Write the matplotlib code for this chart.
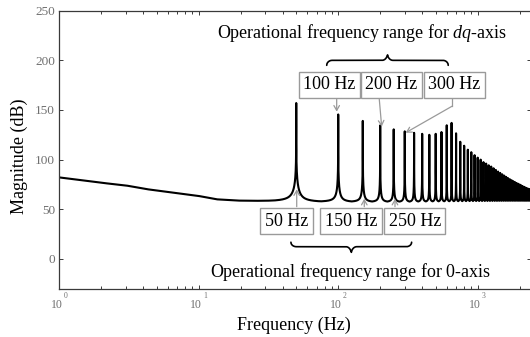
import numpy as np
import matplotlib
matplotlib.use("Agg")
import matplotlib.pyplot as plt
from matplotlib.ticker import LogLocator, NullFormatter

plt.rcParams["font.family"] = ["Liberation Serif", "DejaVu Serif"]
plt.rcParams["mathtext.fontset"] = "custom"
plt.rcParams["mathtext.rm"] = "Liberation Serif"
plt.rcParams["mathtext.it"] = "Liberation Serif:italic"

# Smooth background magnitude (Hz, dB)
base_freq = [1, 2, 3, 4.2, 5.9, 10, 13.4, 19, 25, 35, 300, 2400]
base_db = [81.8, 76.4, 73.7, 70.0, 67.3, 63.0, 59.6, 58.2, 57.8, 57.4, 57.0, 58.0]

# Resonant peaks at the harmonics (Hz, dB at the peak)
peak_freq = list(range(50, 2401, 50))
peak_db = [157.0, 145.5, 139.0, 134.5, 130.5, 128.5, 127.0, 126.0, 125.0, 126.0,
           127.8, 134.6, 137.0, 126.5, 118.0, 114.0, 110.0, 107.5, 104.5, 102.0,
           100.0, 97.5, 96.0, 94.3, 93.0, 91.3, 89.6, 88.0, 86.6, 85.2,
           83.9, 82.6, 81.4, 80.3, 79.3, 78.3, 77.4, 76.5, 75.7, 74.9,
           74.1, 73.3, 72.6, 71.9, 71.3, 70.7, 70.2, 69.7]
peak_bw = 5.0  # resonance width, Hz

dq_labels = ["100 Hz", "200 Hz", "300 Hz"]
zero_labels = ["50 Hz", "150 Hz", "250 Hz"]

# Frequency response: background plus the strongest resonance at each point
freq = np.unique(np.concatenate([np.logspace(0, np.log10(2400), 40000), peak_freq]))
lf = np.log10(freq)
background = np.interp(lf, np.log10(base_freq), base_db)
gain = np.zeros_like(freq)
for fk, pk in zip(peak_freq, peak_db):
    excess = pk - np.interp(np.log10(fk), np.log10(base_freq), base_db)
    r = 1.0 / (10 ** (excess / 20.0) - 1.0)
    gain = np.maximum(gain, 1.0 / ((np.abs(freq - fk) / peak_bw) ** 1.5 + r))
magnitude = background + 20 * np.log10(1 + gain)

fig = plt.figure(figsize=(5.3, 3.37), dpi=100)
ax = fig.add_axes([59.3 / 530, (337 - 288.7) / 337, 471.4 / 530, 278 / 337])
ax.semilogx(freq, magnitude, color="black", lw=1.5)
ax.set_xlim(1, 2400)
ax.set_ylim(-30, 250)
ax.set_yticks(np.arange(0, 251, 50))

spine_col = "#3a3a3a"
tick_col = "#707070"
for s in ax.spines.values():
    s.set_color(spine_col)
    s.set_linewidth(0.9)
ax.xaxis.set_major_locator(LogLocator(base=10, numticks=10))
ax.xaxis.set_minor_locator(LogLocator(base=10, subs=np.arange(2, 10), numticks=20))
ax.xaxis.set_minor_formatter(NullFormatter())
ax.tick_params(which="both", direction="in", top=True, right=True, color=spine_col, width=0.7)
ax.tick_params(which="major", length=3)
ax.tick_params(which="minor", length=2)
ax.tick_params(axis="x", labelbottom=False)
ax.tick_params(axis="y", labelsize=9.5, labelcolor=tick_col, pad=3)

# Decade labels with small raised exponents
for e in range(4):
    ax.annotate("10", xy=(10 ** e, 0), xycoords=ax.get_xaxis_transform(),
                xytext=(-2.5, -16.5), textcoords="offset pixels",
                ha="center", va="center", fontsize=8.5, color=tick_col)
    ax.annotate(str(e), xy=(10 ** e, 0), xycoords=ax.get_xaxis_transform(),
                xytext=(6, -7), textcoords="offset pixels",
                ha="center", va="center", fontsize=5.5, color=tick_col)

fig.text(19 / 530, 1 - 156.7 / 337, "Magnitude (dB)", rotation=90,
         ha="center", va="center", fontsize=13)
fig.text(293.7 / 530, 1 - 325 / 337, "Frequency (Hz)", ha="center", va="center", fontsize=13)

box = dict(boxstyle="square,pad=0.25", fc="white", ec="#9a9a9a", lw=1.0)
arrow_col = "#9a9a9a"

ax.text(148, 227.2, r"Operational frequency range for $\mathit{dq}$-axis",
        ha="center", va="center", fontsize=13)
ax.text(123.5, -12.9, r"Operational frequency range for $\mathit{0}$-axis",
        ha="center", va="center", fontsize=13)

# Boxed harmonic labels
for x, lab in zip([86.2, 241, 679], dq_labels):
    ax.text(x, 175.2, lab, ha="center", va="center", fontsize=13, bbox=box, zorder=5)
for x, lab in zip([42.7, 123.5, 354], zero_labels):
    ax.text(x, 38, lab, ha="center", va="center", fontsize=13, bbox=box, zorder=5)

arrow = dict(arrowstyle="->,head_length=0.35,head_width=0.2", color=arrow_col, lw=0.9,
             shrinkA=0, shrinkB=0)
ax.annotate("", xy=(97.5, 148.3), xytext=(97.5, 160.8), arrowprops=arrow)
ax.annotate("", xy=(204.9, 133.2), xytext=(197, 160.8), arrowprops=arrow)
ax.plot([659, 659], [160.8, 154], color=arrow_col, lw=0.9)
ax.annotate("", xy=(304.6, 127.1), xytext=(659, 154), arrowprops=arrow)
ax.annotate("", xy=(50.4, 70.1), xytext=(50.4, 52.6), arrowprops=arrow)
ax.annotate("", xy=(153.8, 60.6), xytext=(153.8, 52.6), arrowprops=arrow)
ax.annotate("", xy=(255.3, 60.6), xytext=(255.3, 52.6), arrowprops=arrow)


def brace(x0, x1, y, d_end, d_tip, w=0.045):
    t = np.linspace(0, 1, 600)
    tp = np.minimum(t, 1 - t)
    u = np.clip(tp / w, 0, 1)
    v = np.clip((tp - (0.5 - w)) / w, 0, 1)
    yy = y + d_end * (1 - np.sqrt(1 - (1 - u) ** 2)) + d_tip * (1 - np.sqrt(1 - v ** 2))
    xx = 10 ** (np.log10(x0) + t * (np.log10(x1) - np.log10(x0)))
    ax.plot(xx, yy, color="black", lw=1.2, solid_capstyle="round")


brace(82.7, 615, 200, -5.0, 6.8)
brace(45.8, 336, 12.3, 4.5, -7.0)

fig.savefig("out.png", dpi=100)
